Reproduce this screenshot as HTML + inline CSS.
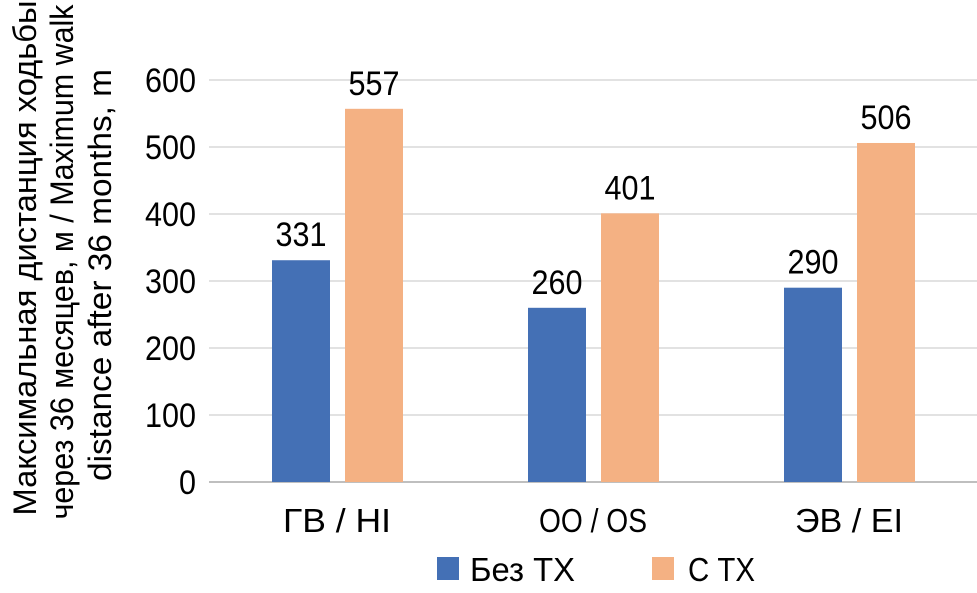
<!DOCTYPE html>
<html><head><meta charset="utf-8"><style>
body{margin:0;background:#fff;}
svg{display:block;font-family:"Liberation Sans Narrow","Liberation Sans",sans-serif;}
</style></head><body>
<svg id="chart" width="977" height="593" viewBox="0 0 977 593">
<g id="grid"></g>
<g id="yticks"></g>
<g id="bars"></g>
<g id="xlabels"></g>
<g font-size="32" fill="#000" text-anchor="middle">
<text transform="translate(36,258) rotate(-90)" textLength="515" lengthAdjust="spacingAndGlyphs">Максимальная дистанция ходьбы</text>
<text transform="translate(73,262) rotate(-90)" textLength="515" lengthAdjust="spacingAndGlyphs">через 36 месяцев, м / Maximum walk</text>
<text transform="translate(111,275) rotate(-90)" textLength="412" lengthAdjust="spacingAndGlyphs">distance after 36 months, m</text>
</g>
<g font-size="33">
<rect x="437" y="557" width="22" height="23" fill="#4470b5"/>
<text x="470" y="581" textLength="105" lengthAdjust="spacingAndGlyphs">Без ТХ</text>
<rect x="652" y="557" width="22" height="23" fill="#f4b183"/>
<text x="688" y="581" textLength="67" lengthAdjust="spacingAndGlyphs">С ТХ</text>
</g>
</svg>
<script>
const categories=["ГВ / HI","ОО / OS","ЭВ / EI"];
const seriesNoTx=[331,260,290];
const seriesTx=[557,401,506];
const tickValues=[0,100,200,300,400,500,600];
const NS="http://www.w3.org/2000/svg";
const plotL=209,plotR=977,y0=482,yScale=67/100;
function y(v){return y0-v*yScale;}
const groupW=(plotR-plotL)/categories.length;
function xc(i){return plotL+groupW*(i+0.5);}
function mk(tag,attrs,parent,txt){const e=document.createElementNS(NS,tag);for(const k in attrs)e.setAttribute(k,attrs[k]);if(txt!==undefined)e.textContent=txt;parent.appendChild(e);return e;}
const grid=document.getElementById('grid'),yt=document.getElementById('yticks'),bars=document.getElementById('bars'),xl=document.getElementById('xlabels');
tickValues.forEach(v=>{
 const l=mk('line',{x1:plotL,x2:plotR,y1:y(v),y2:y(v),stroke:v===0?'#bfbfbf':'#d9d9d9','stroke-width':v===0?2:1.5},grid);
 
 
 const s=String(v);
 const t=mk('text',{x:196,y:y(v)+12,'text-anchor':'end','font-size':34,textLength:s.length*17,lengthAdjust:'spacingAndGlyphs'},yt,s);
 
 
});
const bw=58;
categories.forEach((c,i)=>{
 const cx=xc(i);
 [[seriesNoTx[i],'#4470b5',cx-65],[seriesTx[i],'#f4b183',cx+8]].forEach((d,j)=>{
  const r=mk('rect',{x:d[2],y:y(d[0]),width:bw,height:d[0]*yScale,fill:d[1]},bars);
  
  
  const s=String(d[0]);
  const t=mk('text',{x:d[2]+bw/2,y:y(d[0])-14,'text-anchor':'middle','font-size':34,textLength:s.length*17,lengthAdjust:'spacingAndGlyphs'},bars,s);
  
  
 });
 const t=mk('text',{x:cx,y:532,'text-anchor':'middle','font-size':33,textLength:108,lengthAdjust:'spacingAndGlyphs'},xl,c);
 
 
});
</script>
</body></html>
